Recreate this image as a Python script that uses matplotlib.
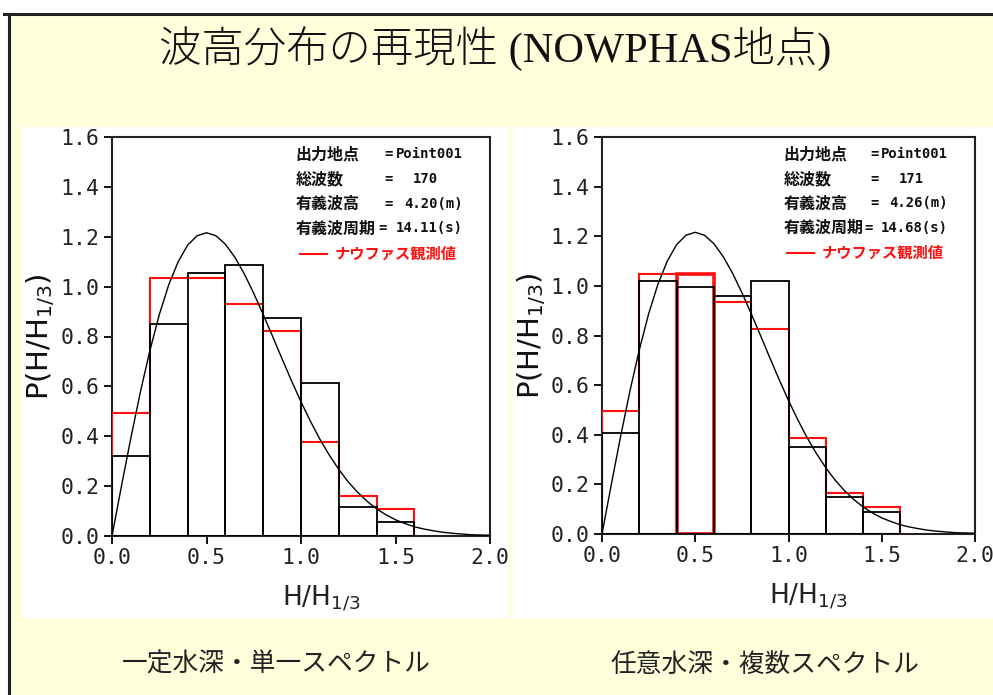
import matplotlib
matplotlib.use('Agg')
import numpy as np
import matplotlib.pyplot as plt
from matplotlib.patches import Rectangle
from matplotlib.lines import Line2D

# histogram bins of H/H1/3
bin_edges = [0.0, 0.2, 0.4, 0.6, 0.8, 1.0, 1.2, 1.4, 1.6]

# computed distribution (black) and NOWPHAS observations (red)
calc_left = [0.32, 0.85, 1.055, 1.085, 0.875, 0.615, 0.118, 0.055]
obs_left = [0.495, 1.035, 1.035, 0.932, 0.822, 0.378, 0.162, 0.108]
calc_right = [0.408, 1.020, 0.996, 0.958, 1.020, 0.350, 0.150, 0.088]
obs_right = [0.497, 1.046, 1.046, 0.934, 0.828, 0.388, 0.166, 0.110]
# on the right-hand graph the observed 0.4-0.6 bin is also boxed in red
boxed_bins_right = [2]

# Rayleigh curve
ray_x = [0.00, 0.05, 0.10, 0.15, 0.20, 0.25, 0.30, 0.35, 0.40, 0.45,
         0.50, 0.55, 0.60, 0.65, 0.70, 0.75, 0.80, 0.85, 0.90, 0.95,
         1.00, 1.05, 1.10, 1.15, 1.20, 1.25, 1.30, 1.35, 1.40, 1.45,
         1.50, 1.55, 1.60, 1.65, 1.70, 1.75, 1.80, 1.85, 1.90, 1.95, 2.00]
ray_p = [0.000, 0.200, 0.394, 0.577, 0.742, 0.887, 1.007, 1.100, 1.166, 1.204,
         1.216, 1.204, 1.170, 1.118, 1.051, 0.973, 0.888, 0.800, 0.710, 0.622,
         0.538, 0.460, 0.388, 0.324, 0.267, 0.217, 0.175, 0.139, 0.109, 0.085,
         0.065, 0.050, 0.037, 0.028, 0.021, 0.015, 0.011, 0.008, 0.005, 0.004, 0.003]

info_labels = ['出力地点', '総波数', '有義波高', '有義波周期']
info_left = ['Point001', '170', '4.20(m)', '14.11(s)']
info_right = ['Point001', '171', '4.26(m)', '14.68(s)']
legend_label = 'ナウファス観測値'

title = '波高分布の再現性 (NOWPHAS地点)'
captions = ['一定水深・単一スペクトル', '任意水深・複数スペクトル']

xticks = [0.0, 0.5, 1.0, 1.5, 2.0]
yticks = [0.0, 0.2, 0.4, 0.6, 0.8, 1.0, 1.2, 1.4, 1.6]

W, H = 993, 695
CJK = 'Noto Sans CJK JP'
MONO = 'DejaVu Sans Mono'
YELLOW = '#FFFFDC'
RED = '#FF1010'

fig = plt.figure(figsize=(W / 100, H / 100), dpi=100)
fig.patch.set_facecolor('white')


def fx(px):
    return px / W


def fy(py):
    return 1 - py / H


# slide background, border and the two white graph panels
fig.add_artist(Rectangle((fx(9), 0), 1 - fx(9), fy(14), transform=fig.transFigure,
                         facecolor=YELLOW, edgecolor='none', zorder=-3))
fig.add_artist(Line2D([fx(4), 1], [fy(14), fy(14)], transform=fig.transFigure,
                      color='#222222', lw=2.2, zorder=-2))
fig.add_artist(Line2D([fx(9), fx(9)], [0, fy(14)], transform=fig.transFigure,
                      color='#222222', lw=2.2, zorder=-2))
fig.add_artist(Rectangle((fx(22), fy(618)), fx(509) - fx(22), fy(127) - fy(618),
                         transform=fig.transFigure, facecolor='white',
                         edgecolor='none', zorder=-1))
fig.add_artist(Rectangle((fx(513), fy(618)), 1 - fx(513), fy(127) - fy(618),
                         transform=fig.transFigure, facecolor='white',
                         edgecolor='none', zorder=-1))

fig.text(fx(495), fy(49), title, ha='center', va='center', fontsize=30.5,
         family=['Liberation Serif', CJK], weight='light', color='#111111')

ax_l = fig.add_axes([fx(112), fy(536), fx(490) - fx(112), fy(137) - fy(536)])
ax_r = fig.add_axes([fx(602), fy(534), fx(975) - fx(602), fy(137) - fy(534)])

widths = np.diff(bin_edges)

for ax, calc, obs, info in [(ax_l, calc_left, obs_left, info_left),
                            (ax_r, calc_right, obs_right, info_right)]:
    ax.set_facecolor('white')
    ax.stairs(obs, bin_edges, baseline=0, color=RED, lw=1.5, zorder=3)
    if ax is ax_r:
        for i in boxed_bins_right:
            ax.bar(bin_edges[i], obs[i], width=widths[i], align='edge', fill=False,
                   edgecolor=RED, lw=2.6, zorder=3.5)
    ax.bar(bin_edges[:-1], calc, width=widths, align='edge', fill=False,
           edgecolor='black', lw=1.3, zorder=4)
    ax.plot(ray_x, ray_p, color='black', lw=1.0, zorder=5)

    ax.set_xlim(0, 2.0)
    ax.set_ylim(0, 1.6)
    ax.set_xticks(xticks)
    ax.set_xticklabels(['%.1f' % t for t in xticks])
    ax.set_yticks(yticks)
    ax.set_yticklabels(['%.1f' % t for t in yticks])
    ax.tick_params(direction='out', length=6, width=1.3, labelsize=15.5, pad=3,
                   colors='black', labelcolor='#222222')
    for lab in ax.get_xticklabels() + ax.get_yticklabels():
        lab.set_family(MONO)
    for sp in ax.spines.values():
        sp.set_linewidth(1.5)
        sp.set_color('#222222')

    ax.set_ylabel(r'P(H/H$_{1/3}$)', fontsize=21, color='#111111')
    ax.yaxis.set_label_coords(-0.145, 0.5)
    ax.set_xlabel(r'H/H$_{1/3}$', fontsize=19, color='#222222')
    ax.xaxis.set_label_coords(0.553, -0.12)

    # run information box
    rows = [0.957, 0.894, 0.833, 0.771]
    for k, (lab, val) in enumerate(zip(info_labels, info)):
        ax.text(0.486, rows[k], lab, transform=ax.transAxes, family=CJK,
                fontsize=11.5, weight='bold', va='center', ha='left', color='#111111')
        eq_x = 0.704 if k == 3 else 0.72
        ax.text(eq_x, rows[k], '=', transform=ax.transAxes, family=MONO,
                fontsize=10, weight='bold', va='center', ha='left', color='#111111')
        right = 0.862 if k == 1 else 0.928
        ax.text(right, rows[k], val, transform=ax.transAxes, family=MONO,
                fontsize=10, weight='bold', va='center', ha='right', color='#111111')
    ax.add_line(Line2D([0.497, 0.569], [0.708, 0.708], transform=ax.transAxes,
                       color=RED, lw=1.5))
    ax.text(0.59, 0.708, legend_label, transform=ax.transAxes, family=CJK,
            fontsize=11, weight='bold', va='center', ha='left', color=RED)

fig.text(fx(276), fy(665), captions[0], ha='center', va='center', fontsize=18.5,
         family=CJK, color='#222222')
fig.text(fx(765), fy(665), captions[1], ha='center', va='center', fontsize=18.5,
         family=CJK, color='#222222')

fig.savefig('out.png', dpi=100, facecolor=fig.get_facecolor())
